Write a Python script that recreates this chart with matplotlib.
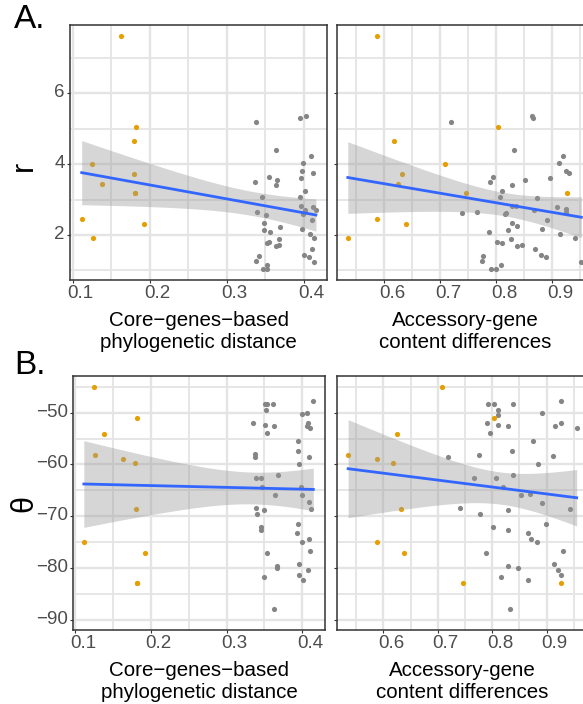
"""
Scatter panels of r and theta against core-genome distance and
accessory-gene content differences, with linear fits and 95% bands.
"""

import matplotlib
matplotlib.use('Agg')  # no display
import matplotlib.pyplot as plt
import matplotlib.transforms as mtransforms
import numpy as np

# --- data ------------------------------------------------------------------
# highlighted (orange) samples: one value per sample in every array
core_o = [0.1629, 0.1247, 0.1386, 0.1117, 0.1269, 0.1819, 0.1798, 0.1802, 0.1815, 0.1815, 0.1923]
acc_o = [0.588, 0.708, 0.624, 0.588, 0.535, 0.803, 0.617, 0.632, 0.746, 0.926, 0.638]
r_o = [7.62, 4.00, 3.45, 2.44, 1.91, 5.06, 4.65, 3.72, 3.18, 3.18, 2.31]
theta_o = [-58.9, -45.1, -54.2, -75.0, -58.1, -51.0, -59.7, -68.6, -83.0, -83.0, -77.1]

# grey samples, read per panel
grey_core_r = [0.3384, 0.3956, 0.4030, 0.3640, 0.4099, 0.3987, 0.3982, 0.4121, 0.3965, 0.3371,
               0.3549, 0.3657, 0.3644, 0.4013, 0.3466, 0.3956, 0.3961, 0.4021, 0.4117, 0.4160,
               0.3393, 0.3510, 0.3991, 0.4108, 0.3479, 0.3479, 0.3557, 0.3692, 0.3982, 0.4082,
               0.4134, 0.3683, 0.3549, 0.3523, 0.3636, 0.3679, 0.4108, 0.3419, 0.3388, 0.4008,
               0.4073, 0.3523, 0.4130, 0.3475, 0.3523]
grey_r_core = [5.19, 5.31, 5.35, 4.41, 4.23, 4.04, 3.82, 3.75, 3.60, 3.51,
               3.63, 3.56, 3.41, 3.23, 3.06, 3.06, 2.83, 2.71, 2.80, 2.72,
               2.64, 2.57, 2.58, 2.42, 2.35, 2.15, 2.08, 2.24, 2.16, 2.02,
               1.93, 1.90, 1.80, 1.77, 1.69, 1.71, 1.61, 1.42, 1.28, 1.45,
               1.37, 1.16, 1.25, 1.05, 1.05]

grey_acc_r = [0.7188, 0.8638, 0.8656, 0.8311, 0.9191, 0.9119, 0.9238, 0.9292, 0.8965, 0.7943,
              0.7895, 0.8507, 0.8282, 0.8103, 0.8727, 0.8068, 0.9090, 0.9244, 0.9250, 0.8282,
              0.8347, 0.8674, 0.7396, 0.7652, 0.8181, 0.8151, 0.8911, 0.8282, 0.8371, 0.8210,
              0.8822, 0.7872, 0.9131, 0.9411, 0.8270, 0.8014, 0.8103, 0.8365, 0.8466, 0.8686,
              0.8804, 0.8894, 0.7765, 0.7753, 0.9518, 0.8092, 0.7901, 0.8002]
grey_r_acc = [5.19, 5.35, 5.31, 4.41, 4.23, 4.04, 3.82, 3.75, 3.60, 3.63,
              3.51, 3.55, 3.41, 3.23, 3.05, 3.07, 2.80, 2.73, 2.64, 2.82,
              2.83, 2.71, 2.63, 2.64, 2.61, 2.58, 2.42, 2.35, 2.25, 2.15,
              2.16, 2.08, 2.02, 1.93, 1.90, 1.81, 1.77, 1.69, 1.71, 1.61,
              1.45, 1.37, 1.42, 1.28, 1.24, 1.16, 1.05, 1.05]

grey_core_t = [0.3354, 0.3508, 0.3538, 0.3618, 0.3517, 0.3508, 0.3631, 0.3534, 0.3371, 0.3371,
               0.3675, 0.3384, 0.3450, 0.3464, 0.3640, 0.3384, 0.3402, 0.3490, 0.3455, 0.3459,
               0.3538, 0.3662, 0.3666, 0.3499, 0.3622, 0.4146, 0.4000, 0.4058, 0.4080, 0.4066,
               0.4102, 0.3939, 0.3939, 0.4088, 0.3952, 0.3983, 0.4000, 0.4088, 0.4115, 0.3943,
               0.3934, 0.3992, 0.4084, 0.4097, 0.3961, 0.3956, 0.4009, 0.4080]
grey_t_core = [-51.9, -48.4, -48.3, -48.3, -49.4, -52.4, -52.6, -54.0, -58.0, -58.6,
               -62.0, -62.6, -62.6, -64.3, -65.9, -68.4, -69.5, -68.8, -72.0, -72.7,
               -77.2, -79.7, -80.0, -81.7, -87.9, -47.7, -50.3, -50.1, -51.9, -52.6,
               -53.0, -55.5, -57.4, -58.5, -59.9, -64.4, -65.9, -67.3, -68.6, -71.6,
               -73.3, -75.0, -74.4, -76.8, -79.3, -81.4, -82.4, -80.4]

grey_acc_t = [0.7923, 0.8027, 0.8382, 0.8113, 0.8107, 0.7898, 0.8107, 0.8290, 0.7953, 0.9264,
              0.8915, 0.9270, 0.9154, 0.9552, 0.8750, 0.8364, 0.7764, 0.7194, 0.9117, 0.8841,
              0.8388, 0.7660, 0.8076, 0.8192, 0.8523, 0.8694, 0.8921, 0.9435, 0.7402, 0.7776,
              0.8290, 0.8982, 0.8009, 0.8290, 0.8664, 0.8713, 0.8817, 0.9307, 0.7886, 0.9129,
              0.8290, 0.8480, 0.9209, 0.9264, 0.8156, 0.8652, 0.8327]
grey_t_acc = [-48.4, -48.3, -48.3, -49.4, -50.4, -51.9, -52.4, -52.6, -54.0, -47.7,
              -50.1, -51.9, -52.6, -53.0, -55.5, -57.4, -58.1, -58.6, -58.4, -59.9,
              -62.0, -62.6, -62.6, -64.4, -65.9, -65.8, -67.4, -68.6, -68.4, -69.5,
              -68.8, -71.6, -72.0, -72.7, -73.3, -74.4, -75.0, -76.8, -77.2, -79.3,
              -79.7, -80.0, -80.4, -81.4, -81.7, -82.4, -87.9]

core_ticks = [0.1, 0.2, 0.3, 0.4]
acc_ticks = [0.6, 0.7, 0.8, 0.9]
r_ticks = [2, 4, 6]
theta_ticks = [-50, -60, -70, -80, -90]

CORE_LABEL = "Core\u2212genes\u2212based\nphylogenetic distance"
ACC_LABEL = "Accessory-gene\ncontent differences"

ORANGE = '#E69F00'
GREY = '#858585'
GRID = '#E4E4E4'
W, H = 583, 704

plt.rcParams['font.family'] = ['Liberation Sans', 'DejaVu Sans']


def px_rect(left, top, right, bottom):
    """Axes rectangle in figure fraction from pixel box (top-left origin)."""
    return [left / W, 1 - bottom / H, (right - left) / W, (bottom - top) / H]


def draw_panel(fig, rect, gx, gy, ox, oy, xlim, ylim, xticks, yticks,
               xlabel, show_ylabels):
    ax = fig.add_axes(rect)

    # grid: major at ticks, minor half way (ticks first, limits after,
    # since set_xticks widens the view to fit every tick)
    ax.set_xticks(xticks)
    ax.set_yticks(yticks)
    step_x = xticks[1] - xticks[0]
    step_y = abs(yticks[1] - yticks[0])
    ax.set_xticks(np.arange(min(xticks) - step_x / 2, max(xticks) + step_x, step_x), minor=True)
    ax.set_yticks(np.arange(min(yticks) - step_y / 2, max(yticks) + step_y, step_y), minor=True)
    ax.set_xlim(*xlim)
    ax.set_ylim(*ylim)
    ax.grid(which='major', color=GRID, lw=1.7)
    ax.grid(which='minor', color=GRID, lw=1.3)
    ax.set_axisbelow(True)
    ax.tick_params(which='minor', length=0)
    ax.tick_params(which='major', length=2.4, width=0.8, color='#333333',
                   labelcolor='#4D4D4D', labelsize=13.5, pad=1.5)
    for sp in ax.spines.values():
        sp.set_color('#333333')
        sp.set_linewidth(1.1)

    # points, then the fit band over them, then the line
    ax.scatter(gx, gy, s=14, color=GREY, lw=0, zorder=2)
    ax.scatter(ox, oy, s=14, color=ORANGE, lw=0, zorder=2)

    x = np.concatenate([gx, ox])
    y = np.concatenate([gy, oy])
    n = len(x)
    slope, icpt = np.polyfit(x, y, 1)
    resid = y - (slope * x + icpt)
    s = np.sqrt(np.sum(resid ** 2) / (n - 2))
    xs = np.linspace(x.min(), x.max(), 80)
    se = s * np.sqrt(1 / n + (xs - x.mean()) ** 2 / np.sum((x - x.mean()) ** 2))
    fit = slope * xs + icpt
    ax.fill_between(xs, fit - 2.0 * se, fit + 2.0 * se, color='#999999',
                    alpha=0.4, lw=0, zorder=3)
    ax.plot(xs, fit, color='#3366FF', lw=2.0, zorder=4)

    # tick labels sit slightly right / up of their ticks in the reference
    dx = mtransforms.ScaledTranslation(0.08, 0, fig.dpi_scale_trans)
    for lab in ax.get_xticklabels():
        lab.set_transform(lab.get_transform() + dx)
    if show_ylabels:
        dy = mtransforms.ScaledTranslation(0, 0.025, fig.dpi_scale_trans)
        for lab in ax.get_yticklabels():
            lab.set_transform(lab.get_transform() + dy)
    else:
        ax.set_yticklabels([])

    ax.set_xlabel(xlabel, fontsize=14.8, color='black', labelpad=6,
                  linespacing=1.25)
    return ax


fig = plt.figure(figsize=(W / 100, H / 100), dpi=100)

draw_panel(fig, px_rect(70, 25, 327, 280), grey_core_r, grey_r_core, core_o, r_o,
           (0.0965, 0.4304), (0.73, 7.93), core_ticks, r_ticks, CORE_LABEL, True)
draw_panel(fig, px_rect(336.7, 25, 593, 280), grey_acc_r, grey_r_acc, acc_o, r_o,
           (0.5152, 0.9726), (0.73, 7.93), acc_ticks, r_ticks, ACC_LABEL, False)
draw_panel(fig, px_rect(73.3, 376, 325, 630), grey_core_t, grey_t_core, core_o, theta_o,
           (0.0978, 0.430), (-92.0, -42.9), core_ticks, theta_ticks, CORE_LABEL, True)
draw_panel(fig, px_rect(336.7, 376, 588, 630), grey_acc_t, grey_t_acc, acc_o, theta_o,
           (0.514, 0.976), (-92.0, -42.9), acc_ticks, theta_ticks, ACC_LABEL, False)

# y titles and panel tags
fig.text(24 / W, 1 - 166 / H, "r", rotation=90, fontsize=22, ha='center', va='center')
fig.text(24 / W, 1 - 503 / H, "\u03b8", rotation=90, fontsize=22, ha='center', va='center')
fig.text(14 / W, 1 - 20 / H, "A.", fontsize=24, ha='left', va='center')
fig.text(14 / W, 1 - 366 / H, "B.", fontsize=24, ha='left', va='center')

fig.savefig('out.png', dpi=100)
plt.close(fig)
